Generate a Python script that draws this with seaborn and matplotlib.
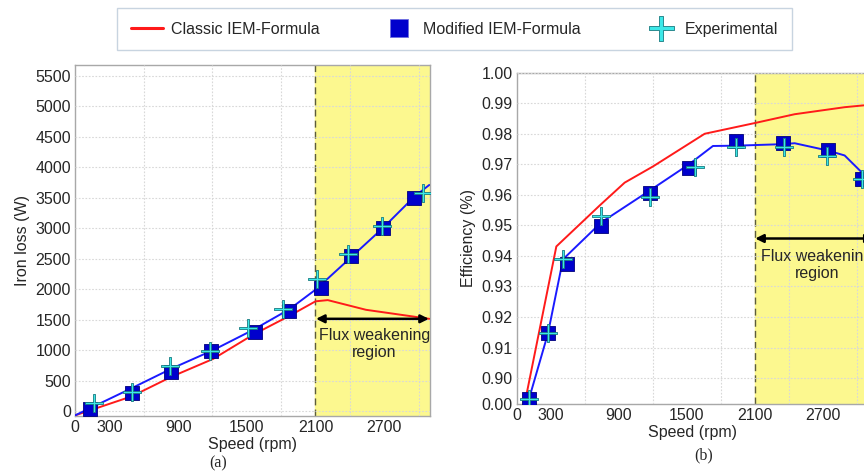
import numpy as np
import pandas as pd
import matplotlib as mpl
import matplotlib.pyplot as plt
import seaborn as sns
from matplotlib.lines import Line2D

# ---- data ------------------------------------------------------------------
# (a) iron loss
loss_line_speed = [0, 494, 842, 1205, 1554, 1873, 2105, 2396, 2686, 2962, 3093]
loss_modified_line = [-70, 376, 697, 1000, 1332, 1673, 2000, 2500, 3000, 3517, 3711]
loss_classic_speed = [0, 494, 842, 1205, 1554, 1873, 2100, 2207, 2541, 3093]
loss_classic = [-70, 242, 564, 856, 1253, 1564, 1802, 1822, 1663, 1515]
loss_mod_pts_speed = [131, 494, 842, 1190, 1568, 1867, 2149, 2410, 2686, 2962]
loss_mod_pts = [27, 296, 644, 979, 1305, 1639, 2022, 2539, 3000, 3500]
loss_exp_speed = [168, 494, 833, 1182, 1510, 1815, 2114, 2387, 2677, 3043]
loss_exp = [134, 312, 734, 989, 1358, 1673, 2163, 2572, 3040, 3583]

# (b) efficiency
eff_line_speed = [109, 276, 409, 747, 1174, 1521, 1732, 1938, 2350, 2453, 2747, 2894, 3060]
eff_modified_line = [0.8932, 0.9146, 0.9389, 0.9510, 0.9614, 0.9700, 0.9760, 0.9761,
                     0.9766, 0.9769, 0.9745, 0.9729, 0.9668]
eff_classic_speed = [91, 350, 732, 953, 1203, 1659, 2100, 2453, 2894, 3062]
eff_classic = [0.8954, 0.9431, 0.9565, 0.9640, 0.9693, 0.9800, 0.9835, 0.9864, 0.9887, 0.9893]
eff_mod_pts_speed = [109, 276, 444, 747, 1174, 1521, 1938, 2350, 2747, 3050]
eff_mod_pts = [0.8932, 0.9146, 0.9372, 0.9498, 0.9607, 0.9689, 0.9776, 0.9771, 0.9748, 0.9653]
eff_exp_speed = [109, 276, 409, 741, 1174, 1571, 1938, 2359, 2741, 3050]
eff_exp = [0.8932, 0.9146, 0.9390, 0.9531, 0.9592, 0.9690, 0.9758, 0.9757, 0.9727, 0.9651]

speed_ticks = [0, 300, 900, 1500, 2100, 2700]
loss_ticks = list(range(0, 5501, 500))
eff_ticks = [0.8915, 0.90, 0.91, 0.92, 0.93, 0.94, 0.95, 0.96, 0.97, 0.98, 0.99, 1.00]
eff_tick_labels = ["0.00", "0.90", "0.91", "0.92", "0.93", "0.94", "0.95",
                   "0.96", "0.97", "0.98", "0.99", "1.00"]
flux_start = 2100

RED = "#ff1a1a"
BLUE = "#1a1aff"
SQ = "#0000cc"
CYAN = "#3ce8e8"
YELLOW = "#fcf88f"

sns.set_style("whitegrid")
plt.rcParams["font.family"] = ["Liberation Sans", "DejaVu Sans"]
plt.rcParams["font.size"] = 11.5

# thin plus marker (filled, so it can carry a dark outline)
t = 0.13
plus_verts = [(-t, -1), (t, -1), (t, -t), (1, -t), (1, t), (t, t), (t, 1),
              (-t, 1), (-t, t), (-1, t), (-1, -t), (-t, -t), (-t, -1)]

fig = plt.figure(figsize=(8.64, 4.72), dpi=100)
ax1 = fig.add_axes([0.0868, 0.1186, 0.4109, 0.7437])
ax2 = fig.add_axes([0.598, 0.144, 0.4066, 0.702])


def style_axis(ax):
    ax.set_facecolor("white")
    ax.grid(True, color="#d8d8d8", linestyle=(0, (1.5, 1.5)), linewidth=0.8)
    ax.set_xticks(np.arange(0, 3101, 300), minor=True)
    ax.grid(True, which="minor", axis="x", color="#d8d8d8", linestyle=(0, (1.5, 1.5)), linewidth=0.8)
    ax.grid(False, which="major", axis="x")
    for sp in ax.spines.values():
        sp.set_color("#a8a8a8")
        sp.set_linewidth(1.0)
    ax.tick_params(axis="both", which="both", length=0, labelsize=11.5, pad=3)
    ax.set_xlim(0, 3100)
    ax.set_xticks(speed_ticks)
    ax.axvspan(flux_start, 3100, color=YELLOW, zorder=0.5)
    ax.axvline(flux_start, color="#5c5c3d", linestyle=(0, (5, 3)), linewidth=1.0, zorder=1)
    ax.set_axisbelow(False)


def draw(ax, ls, lm, cs, cv, ms, mv, es, ev, sq_size):
    sns.lineplot(x=cs, y=cv, ax=ax, color=RED, linewidth=1.4, zorder=3, sort=False)
    sns.lineplot(x=ls, y=lm, ax=ax, color=BLUE, linewidth=1.4, zorder=3, sort=False)
    sns.scatterplot(x=ms, y=mv, ax=ax, marker="s", s=sq_size, color=SQ,
                    edgecolor="#00007a", linewidth=0.6, zorder=4)
    sns.scatterplot(x=es, y=ev, ax=ax, marker=plus_verts, s=150, color=CYAN,
                    edgecolor="#187a80", linewidth=0.6, zorder=5)


style_axis(ax1)
draw(ax1, loss_line_speed, loss_modified_line, loss_classic_speed, loss_classic,
     loss_mod_pts_speed, loss_mod_pts, loss_exp_speed, loss_exp, 88)
ax1.set_ylim(-80, 5680)
ax1.set_yticks(loss_ticks)
ax1.set_ylabel("Iron loss (W)", fontsize=11.5)
ax1.set_xlabel("Speed (rpm)", fontsize=11.5, labelpad=1)
ax1.annotate("", xy=(3090, 1515), xytext=(2105, 1515),
             arrowprops=dict(arrowstyle="<|-|>", color="black", lw=1.8,
                             mutation_scale=12, shrinkA=0, shrinkB=0), zorder=6)
ax1.text(2613, 1105, "Flux weakening\nregion", ha="center", va="center",
         fontsize=11.5, linespacing=1.15, zorder=6)

style_axis(ax2)
draw(ax2, eff_line_speed, eff_modified_line, eff_classic_speed, eff_classic,
     eff_mod_pts_speed, eff_mod_pts, eff_exp_speed, eff_exp, 95)
ax2.set_ylim(0.8915, 1.0)
ax2.set_yticks(eff_ticks)
ax2.set_yticklabels(eff_tick_labels)
ax2.set_ylabel("Efficiency (%)", fontsize=11.5)
ax2.set_xlabel("Speed (rpm)", fontsize=11.5, labelpad=1)
ax2.annotate("", xy=(3150, 0.9457), xytext=(2105, 0.9457),
             arrowprops=dict(arrowstyle="<|-|>", color="black", lw=1.8,
                             mutation_scale=12, shrinkA=0, shrinkB=0),
             annotation_clip=False, zorder=6)
ax2.text(2647, 0.937, "Flux weakening\nregion", ha="center", va="center",
         fontsize=11.5, linespacing=1.15, zorder=6)

for ax in (ax1, ax2):
    leg = ax.get_legend()
    if leg is not None:
        leg.remove()

fig.text(0.252, 1 - 463 / 472, "(a)", family="Liberation Serif", fontsize=11.5,
         ha="center", va="center")
fig.text(0.814, 1 - 455 / 472, "(b)", family="Liberation Serif", fontsize=11.5,
         ha="center", va="center")

handles = [
    Line2D([], [], color=RED, linewidth=2.2),
    Line2D([], [], color=SQ, marker="s", linestyle="none", markersize=13.5,
           markeredgecolor="#6f6fe0", markeredgewidth=0.6),
    Line2D([], [], color=CYAN, marker=plus_verts, linestyle="none", markersize=18,
           markeredgecolor="#187a80", markeredgewidth=0.6),
]
labels = ["Classic IEM-Formula", "Modified IEM-Formula", "Experimental"]
fig.legend(handles, labels, loc="upper center", bbox_to_anchor=(0.526, 1.0), ncol=3,
           frameon=True, fancybox=False, edgecolor="#c8d4e0", fontsize=11.5,
           handlelength=2.0, columnspacing=4.0, handletextpad=0.5,
           borderpad=0.85, framealpha=1)

fig.savefig("out.png", dpi=100)
